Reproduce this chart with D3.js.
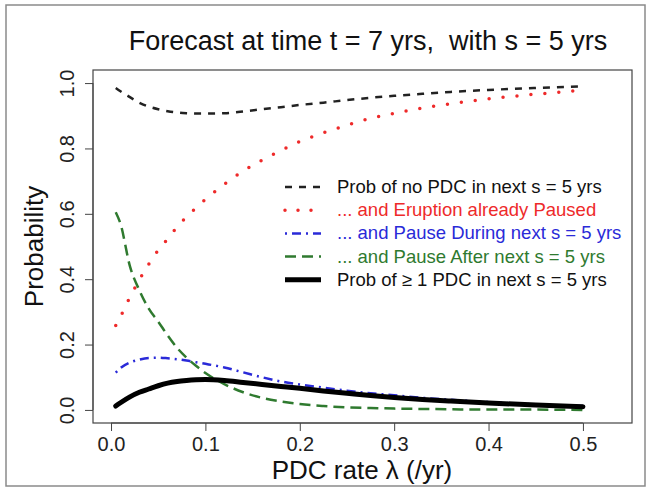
<!DOCTYPE html>
<html>
<head>
<meta charset="utf-8">
<script src="https://cdn.jsdelivr.net/npm/d3@7"></script>
<style>
  body { margin: 0; background: #fff; }
  svg text { font-family: "Liberation Sans", Arial, sans-serif; white-space: pre; }
</style>
</head>
<body>
<svg class="chartSVG"></svg>
<script>
// PDC rate values (x) shared by every series
var lambdas = [0.005, 0.01, 0.02, 0.03, 0.04, 0.05, 0.06, 0.07, 0.08, 0.09, 0.10,
  0.12, 0.14, 0.16, 0.18, 0.20, 0.225, 0.25, 0.275, 0.30, 0.33, 0.36, 0.40, 0.45, 0.50];

var probNoPDC = [0.985, 0.975, 0.957, 0.940, 0.928, 0.920, 0.914, 0.910, 0.908, 0.907, 0.907,
  0.908, 0.913, 0.920, 0.926, 0.933, 0.940, 0.948, 0.955, 0.961, 0.967, 0.973, 0.979, 0.985, 0.990];
var probPaused = [0.258, 0.285, 0.345, 0.398, 0.446, 0.489, 0.523, 0.560, 0.591, 0.618, 0.644,
  0.690, 0.731, 0.764, 0.794, 0.821, 0.848, 0.871, 0.892, 0.907, 0.924, 0.937, 0.952, 0.966, 0.978];
var probDuring = [0.114, 0.128, 0.145, 0.154, 0.159, 0.160, 0.158, 0.155, 0.151, 0.146, 0.141,
  0.130, 0.115, 0.100, 0.087, 0.078, 0.068, 0.059, 0.051, 0.045, 0.037, 0.031, 0.024, 0.017, 0.012];
var probAfter = [0.605, 0.570, 0.440, 0.366, 0.310, 0.270, 0.228, 0.190, 0.160, 0.135, 0.113,
  0.079, 0.054, 0.037, 0.026, 0.018, 0.012, 0.008, 0.006, 0.004, 0.003, 0.002, 0.001, 0.001, 0.000];
var probAtLeastOne = [0.012, 0.022, 0.040, 0.054, 0.064, 0.074, 0.082, 0.087, 0.090, 0.092, 0.093,
  0.090, 0.084, 0.078, 0.072, 0.066, 0.058, 0.051, 0.044, 0.038, 0.032, 0.027, 0.021, 0.015, 0.010];

var xTicks = [0.0, 0.1, 0.2, 0.3, 0.4, 0.5];
var yTicks = [0.0, 0.2, 0.4, 0.6, 0.8, 1.0];

var legendLabels = [
  "Prob of no PDC in next s = 5 yrs",
  "... and Eruption already Paused",
  "... and Pause During next s = 5 yrs",
  "... and Pause After next s = 5 yrs",
  "Prob of \u2265 1 PDC in next s = 5 yrs"
];

const svgWidth = 650;
const svgHeight = 490;
const svg = d3.select('.chartSVG')
  .attr("width", svgWidth)
  .attr("height", svgHeight);

// plot box
var box = { left: 93, top: 70, right: 632, bottom: 423 };

var x = d3.scaleLinear()
  .domain([-0.0191, 0.552])
  .range([box.left, box.right]);
var y = d3.scaleLinear()
  .domain([-0.04, 1.04])
  .range([box.bottom, box.top]);

// outer frame of the figure
svg.append("rect")
  .attr("x", 6).attr("y", 5)
  .attr("width", 639).attr("height", 481)
  .attr("fill", "none")
  .attr("stroke", "#8a8a8a")
  .attr("stroke-width", 1.5);

// title
svg.append("text")
  .attr("x", 368).attr("y", 50)
  .attr("text-anchor", "middle")
  .attr("font-size", 27)
  .attr("fill", "#111")
  .text("Forecast at time t = 7 yrs,  with s = 5 yrs");

// series styles
var series = [
  { values: probNoPDC, color: "#222", width: 2.5, dash: "7,7", cap: "butt" },
  { values: probPaused, color: "#ee2a2a", width: 3.5, dash: "0,14", cap: "round" },
  { values: probDuring, color: "#2a2ad8", width: 2.5, dash: "2,5,9,5", cap: "butt" },
  { values: probAfter, color: "#2f7a2f", width: 2.5, dash: "11,6", cap: "butt" },
  { values: probAtLeastOne, color: "#000", width: 5, dash: null, cap: "round" }
];

var line = d3.line()
  .x(function(d) { return x(d[0]); })
  .y(function(d) { return y(d[1]); })
  .curve(d3.curveMonotoneX);

var graph = svg.append("g");
series.forEach(function(s) {
  var pts = lambdas.map(function(l, i) { return [l, s.values[i]]; });
  graph.append("path")
    .datum(pts)
    .attr("d", line)
    .attr("fill", "none")
    .attr("stroke", s.color)
    .attr("stroke-width", s.width)
    .attr("stroke-linecap", s.cap)
    .attr("stroke-dasharray", s.dash);
});

// box
svg.append("rect")
  .attr("x", box.left).attr("y", box.top)
  .attr("width", box.right - box.left).attr("height", box.bottom - box.top)
  .attr("fill", "none")
  .attr("stroke", "#444")
  .attr("stroke-width", 1.2);

// X axis
var xAxis = svg.append("g")
  .attr("transform", "translate(0," + box.bottom + ")")
  .call(d3.axisBottom(x).tickValues(xTicks).tickFormat(d3.format(".1f")).tickSize(8).tickPadding(6));
xAxis.select(".domain").attr("d", "M" + x(0) + ",0H" + x(0.5)).attr("stroke", "#444");
xAxis.selectAll("text").attr("font-size", 20).attr("fill", "#222")
  .style("font-family", "'Liberation Sans', Arial, sans-serif");
xAxis.selectAll("line").attr("stroke", "#444");

// Y axis (rotated labels)
var yAxis = svg.append("g")
  .attr("transform", "translate(" + box.left + ",0)")
  .call(d3.axisLeft(y).tickValues(yTicks).tickFormat(d3.format(".1f")).tickSize(8));
yAxis.select(".domain").attr("d", "M0," + y(0) + "V" + y(1)).attr("stroke", "#444");
yAxis.selectAll("line").attr("stroke", "#444");
yAxis.selectAll("text")
  .attr("font-size", 20).attr("fill", "#222")
  .style("font-family", "'Liberation Sans', Arial, sans-serif")
  .attr("x", null).attr("dy", null)
  .attr("text-anchor", "middle")
  .attr("transform", "translate(-19,0) rotate(-90)");

// axis titles
svg.append("text")
  .attr("x", 362).attr("y", 479)
  .attr("text-anchor", "middle")
  .attr("font-size", 26)
  .attr("fill", "#111")
  .text("PDC rate \u03bb (/yr)");
svg.append("text")
  .attr("transform", "translate(43," + y(0.5) + ") rotate(-90)")
  .attr("text-anchor", "middle")
  .attr("font-size", 26)
  .attr("fill", "#111")
  .text("Probability");

// legend
var legend = svg.append("g").attr("transform", "translate(285,187)");
series.forEach(function(s, i) {
  var row = legend.append("g").attr("transform", "translate(0," + (i * 23.2) + ")");
  row.append("line")
    .attr("x1", 0).attr("x2", 36).attr("y1", 0).attr("y2", 0)
    .attr("stroke", s.color)
    .attr("stroke-width", s.width)
    .attr("stroke-linecap", s.dash === "0,14" ? "round" : "butt")
    .attr("stroke-dasharray", s.dash === "0,14" ? "0,13" : s.dash);
  row.append("text")
    .attr("x", 52).attr("y", 6)
    .attr("font-size", 18.5)
    .attr("fill", i >= 1 && i <= 3 ? s.color : "#111")
    .text(legendLabels[i]);
});
</script>
</body>
</html>
